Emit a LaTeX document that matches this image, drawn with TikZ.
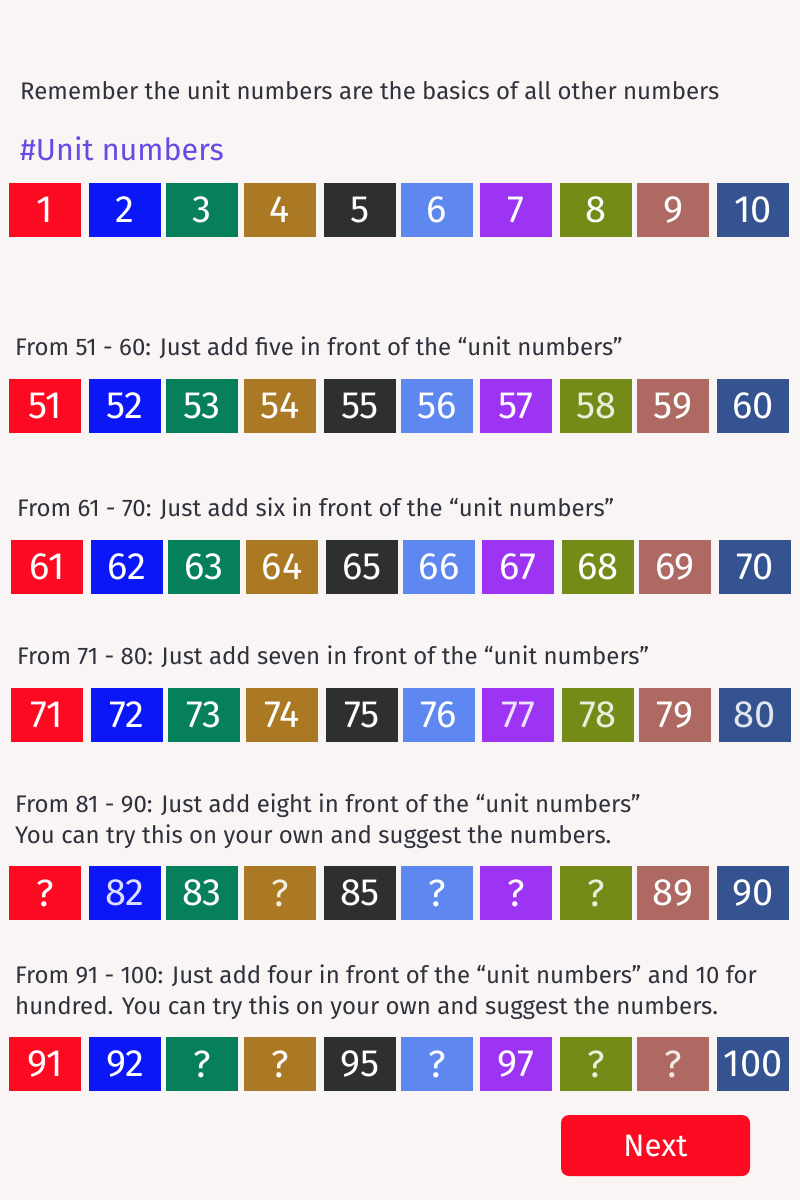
\documentclass[tikz,border=0pt]{standalone}
\usepackage{fontspec}
\setmainfont{Fira Sans}
\usetikzlibrary{positioning}

\definecolor{bg}{HTML}{F9F5F4}
\definecolor{txt}{HTML}{31313D}
\definecolor{head}{HTML}{6749E4}
\definecolor{col1}{HTML}{FC0A22}
\definecolor{col2}{HTML}{0C17F8}
\definecolor{col3}{HTML}{06805A}
\definecolor{col4}{HTML}{AB7923}
\definecolor{col5}{HTML}{2E302D}
\definecolor{col6}{HTML}{5E88EF}
\definecolor{col7}{HTML}{9D34F3}
\definecolor{col8}{HTML}{748B18}
\definecolor{col9}{HTML}{AE6962}
\definecolor{col10}{HTML}{355391}

% faded label, tinted with the box colour
\newcommand{\fade}[1]{\textcolor{white!85!col\i}{#1}}

\tikzset{
  numbox/.style={minimum width=72pt, minimum height=54pt, inner sep=0pt,
                 text=white, font=\fontsize{38}{38}\selectfont},
  line/.style={anchor=base west, text=txt, inner sep=0pt,
               font=\fontsize{24}{31}\selectfont, align=left},
  nextbtn/.style={fill=col1, rounded corners=8pt, minimum width=189pt,
                  minimum height=61pt, text=white, font=\fontsize{31}{31}\selectfont}
}

\def\xa{{0,45,125,202,280,360,437,516,596,673,753}}
\def\xb{{0,47,127,204,282,362,439,518,598,675,755}}

\begin{document}
\begin{tikzpicture}[x=1pt,y=-1pt]
  \fill[bg] (0,0) rectangle (800,1200);
  \useasboundingbox (0,0) rectangle (800,1200);

  \node[line] (intro) at (20,99.5)
    {Remember the unit numbers are the basics of all other numbers};
  \node[line, text=head, font=\fontsize{30.5}{30.5}\selectfont] (unit) at (20,160)
    {\#Unit numbers};

  % units
  \foreach \lab [count=\i] in {1,2,3,4,5,6,7,8,9,10}
    \node[numbox, fill=col\i] (a\i) at ({\xa[\i]},210) {\lab};

  % fifties
  \node[line] (t5) at (15,355)
    {From 51 - 60: Just add five in front of the “unit numbers”};
  \foreach \lab [count=\i] in {51,52,53,54,55,56,57,\fade{58},59,60}
    \node[numbox, fill=col\i] (b\i) at ({\xa[\i]},406) {\lab};

  % sixties
  \node[line] (t6) at (17,516)
    {From 61 - 70: Just add six in front of the “unit numbers”};
  \foreach \lab [count=\i] in {61,62,63,64,65,66,67,68,69,70}
    \node[numbox, fill=col\i] (c\i) at ({\xb[\i]},567) {\lab};

  % seventies
  \node[line] (t7) at (17,664)
    {From 71 - 80: Just add seven in front of the “unit numbers”};
  \foreach \lab [count=\i] in {71,72,73,74,75,76,\fade{77},\fade{78},79,\fade{80}}
    \node[numbox, fill=col\i] (d\i) at ({\xb[\i]},715) {\lab};

  % eighties (base is the last line)
  \node[line] (t8) at (15,843.3)
    {From 81 - 90: Just add eight in front of the “unit numbers”\\
     You can try this on your own and suggest the numbers.};
  \foreach \lab [count=\i] in {?,\fade{82},83,\fade{?},85,?,?,\fade{?},89,90}
    \node[numbox, fill=col\i] (e\i) at ({\xa[\i]},893) {\lab};

  % nineties
  \node[line] (t9) at (15,1014)
    {From 91 - 100: Just add four in front of the “unit numbers” and 10 for\\
     hundred. You can try this on your own and suggest the numbers.};
  \foreach \lab [count=\i] in {91,92,?,?,95,?,97,\fade{?},\fade{?},100}
    \node[numbox, fill=col\i] (f\i) at ({\xa[\i]},1064) {\lab};

  \node[nextbtn] (next) at (655.5,1145.5) {Next};
\end{tikzpicture}
\end{document}
